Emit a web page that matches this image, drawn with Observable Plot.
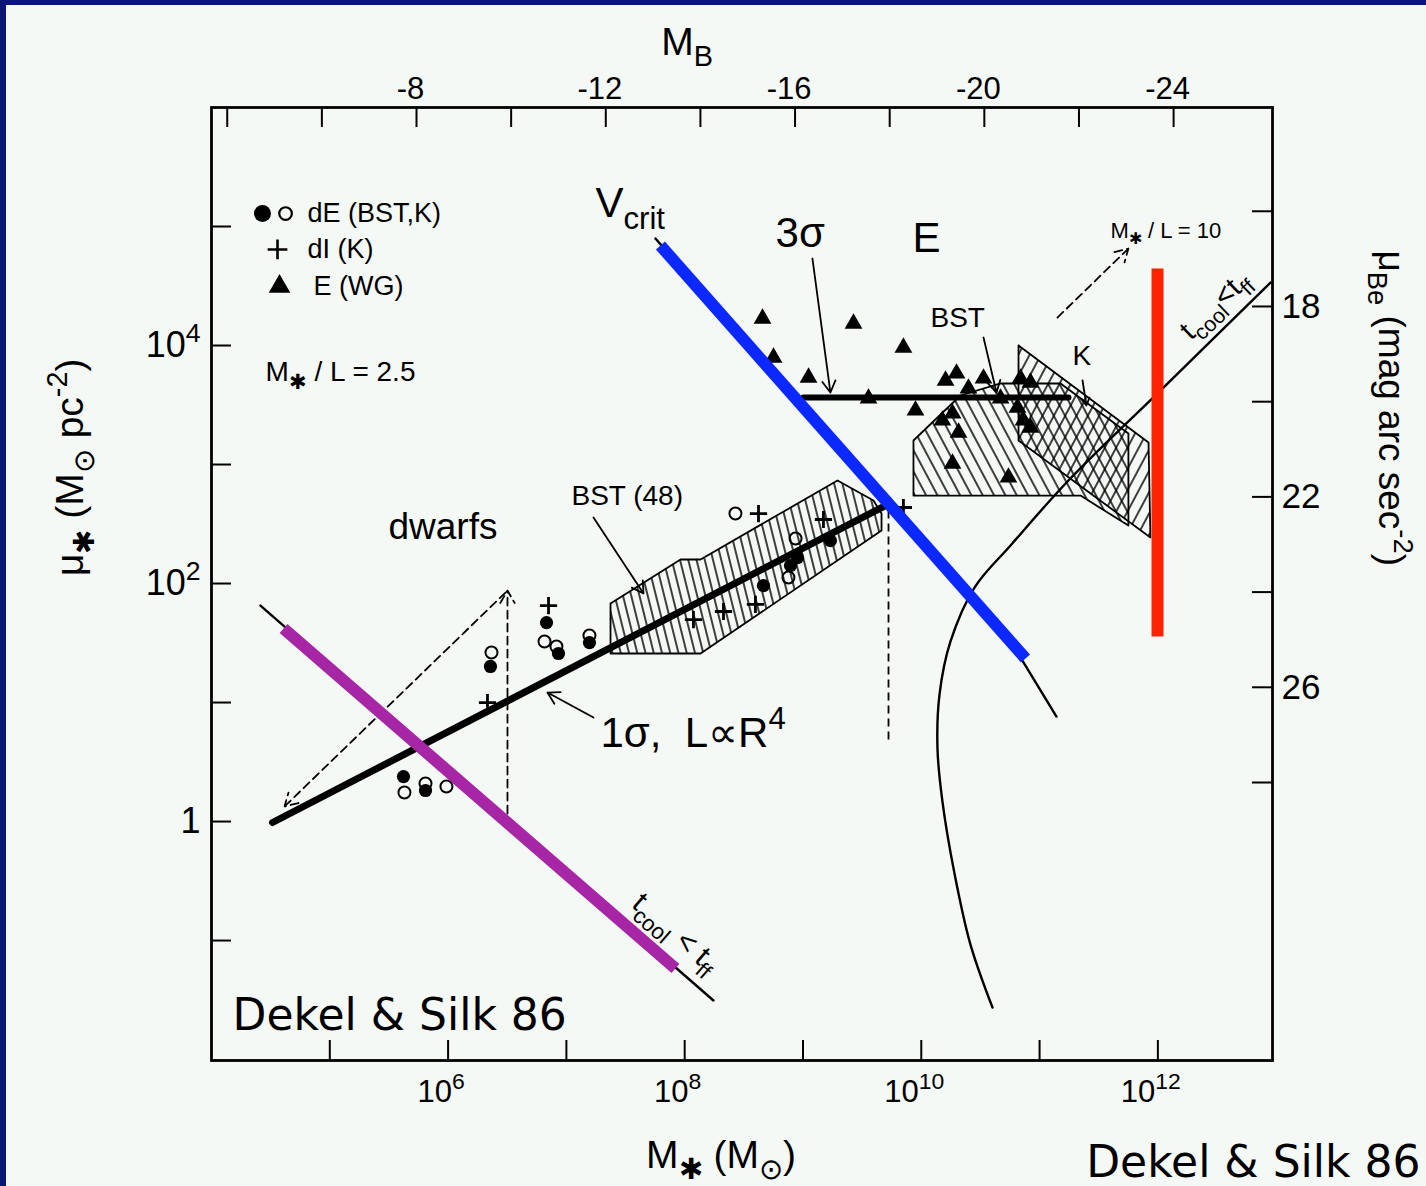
<!DOCTYPE html>
<html><head><meta charset="utf-8">
<script src="https://cdn.jsdelivr.net/npm/d3@7"></script>
<script src="https://cdn.jsdelivr.net/npm/@observablehq/plot@0.6"></script>
<style>
html,body{margin:0;padding:0;background:#f5f9f6;overflow:hidden;width:1426px;height:1186px;}
#chart{position:absolute;left:0;top:0;}
.edge{position:absolute;background:#0b1577;}
</style></head><body>
<div id="chart"></div>
<div class="edge" style="left:0;top:0;width:1426px;height:5px"></div>
<div class="edge" style="left:0;top:0;width:6px;height:1186px"></div>
<script>
// ---------- data (log10 M*, log10 mu*) ----------
const xTickExp = [5, 6, 7, 8, 9, 10, 11, 12];
const xLabelExp = [6, 8, 10, 12];
const yTickExp = [-1, 0, 1, 2, 3, 4, 5];
const yLabelExp = [0, 2, 4];
const mbTicks = [-4, -6, -8, -10, -12, -14, -16, -18, -20, -22, -24];
const mbLabels = [-8, -12, -16, -20, -24];
const muBeTicks = [16, 18, 20, 22, 24, 26, 28];
const muBeLabels = [18, 22, 26];
// M*/L = 2.5 conversions: log M* = MB0 - 0.4 M_B ; log mu* = MU0 - 0.4 mu_Be
const MB0 = 2.533, MU0 = 11.528;

const dEfilled = [[5.623,0.378],[5.809,0.261],[6.358,1.303],[6.832,1.672],[6.933,1.412],[7.195,1.504],[8.666,1.983],[8.894,2.151],[8.954,2.218],[9.232,2.361]];
const dEopen = [[5.631,0.244],[5.809,0.319],[5.986,0.294],[6.367,1.420],[6.815,1.513],[6.916,1.471],[7.195,1.563],[8.429,2.588],[8.877,2.050],[8.937,2.378]];
const dIplus = [[6.333,1.0],[6.849,1.815],[8.074,1.697],[8.328,1.765],[8.598,1.824],[8.624,2.588],[9.173,2.538],[9.849,2.639]];
const eWG = [[8.658,4.227],[8.751,3.899],[9.047,3.731],[9.427,4.185],[9.849,3.983],[9.554,3.555],[9.951,3.454],[10.205,3.706],[10.298,3.765],[10.526,3.723],[10.399,3.639],[10.179,3.370],[10.264,3.429],[10.315,3.269],[10.264,3.008],[10.737,2.891],[10.839,3.723],[10.923,3.689],[10.864,3.370],[10.923,3.311],[10.813,3.479],[10.670,3.555]];

const bst48 = [[7.373,1.832],[7.965,2.202],[8.134,2.202],[9.292,2.866],[9.596,2.697],[9.664,2.588],[9.664,2.445],[8.134,1.412],[7.373,1.412]];
const bstE = [[9.934,3.202],[10.331,3.580],[10.670,3.681],[11.177,3.681],[11.751,3.261],[11.751,2.487],[11.346,2.739],[9.934,2.739]];
const kBand = [[10.822,4.0],[11.921,3.185],[11.937,2.387],[10.822,3.202]];

const sigma1 = [[4.516,-0.008],[9.697,2.655]];
const sigma3 = [[9.004,3.563],[11.244,3.563]];
const vcrit = [[7.753,4.899],[10.855,1.353],[11.143,0.882]];
const coolLeft = [[4.414,1.815],[8.243,-1.504]];
const coolRight = [[12.952,4.529],[12.047,3.647],[11.244,2.866],[10.762,2.328],[10.450,1.966],[10.247,1.513],[10.154,1.067],[10.137,0.613],[10.179,0.168],[10.281,-0.437],[10.416,-1.034],[10.602,-1.563]];
const dashLines = [[[9.723,2.613],[9.723,0.664]]];
const dashArrows = [[[6.502,0.067],[6.502,1.941]],[[6.485,1.924],[4.617,0.126]],[[11.151,4.235],[11.751,4.815]]];
const noteArrows = [[[9.080,4.731],[9.232,3.605]],[[10.526,4.067],[10.636,3.605]],[[11.363,3.706],[11.396,3.496]],[[7.229,2.555],[7.652,1.916]],[[7.229,0.874],[6.840,1.084]]];

const purpleLine = [[4.609,1.622],[7.922,-1.235]];
const blueLine = [[7.795,4.840],[10.881,1.370]];
const redLine = [[11.997,4.647],[11.997,1.555]];

const legendRows = [{t:"dE (BST,K)", at:[4.811,5.109]},{t:"dI (K)", at:[4.811,4.807]},{t:"E (WG)", at:[4.862,4.496]}];
const legendFilled = [[4.431,5.109]], legendOpen = [[4.626,5.109]], legendPlus = [[4.558,4.807]], legendTri = [[4.575,4.496]];
const bigNotes = [{t:"V_{crit}", at:[7.246,5.193]},{t:"3σ", at:[8.768,4.941]},{t:"E", at:[9.926,4.899]},{t:"1σ,  L∝R^{4}", at:[7.288,0.739]}];
const midNotes = [{t:"M_{✱} / L = 2.5", at:[4.456,3.773]},{t:"BST", at:[10.078,4.235]},{t:"BST (48)", at:[7.043,2.739]},{t:"K", at:[11.278,3.908]}];
const dwarfNote = [{t:"dwarfs", at:[5.496,2.471]}];
const smallNote = [{t:"M_{✱} / L = 10", at:[11.6,4.966]}];
const coolNoteR = [{t:"t_{cool}<t_{ff}", at:[12.480,4.340]}];
const coolNoteL = [{t:"t_{cool} < t_{ff}", at:[7.925,-0.935]}];
const creditIn = [{t:"Dekel & Silk 86", at:[4.178,-1.630]}];

// ---------- layout ----------
const W = 1426, H = 1186, mL = 211, mR = 154, mT = 107, mB = 126;
const innerW = W - mL - mR, innerH = H - mT - mB;
const P = v => 10 ** v;
const X = d => P(d[0]), Y = d => P(d[1]);
const AX = d => P(d.at[0]), AY = d => P(d.at[1]);
const mbToM = mb => P(MB0 - 0.4 * mb);
const muBeToMu = m => P(MU0 - 0.4 * m);
const closed = a => [...a, a[0]];
const seg = s => ({x1: P(s[0][0]), y1: P(s[0][1]), x2: P(s[1][0]), y2: P(s[1][1])});
const creditFont = "'DejaVu Sans', sans-serif";

const svg = Plot.plot({
  width: W, height: H,
  marginLeft: mL, marginRight: mR, marginTop: mT, marginBottom: mB,
  x: {type: "log", domain: [P(4), P(12.969)], axis: null},
  y: {type: "log", domain: [P(-2.008), P(6)], axis: null},
  style: {background: "#f5f9f6", color: "#000", fontFamily: "'Liberation Sans', Arial, sans-serif"},
  marks: [
    // hatched regions
    Plot.line(closed(bst48), {x: X, y: Y, fill: "url(#hBST48)", stroke: "#000", strokeWidth: 1.8}),
    Plot.line(closed(bstE), {x: X, y: Y, fill: "url(#hBSTE)", stroke: "#000", strokeWidth: 1.8}),
    Plot.line(closed(kBand), {x: X, y: Y, fill: "url(#hK)", stroke: "#000", strokeWidth: 1.8}),
    // frame & ticks
    Plot.frame({stroke: "#000", strokeWidth: 2.8}),
    Plot.tickX(xTickExp, {x: P, insetTop: innerH - 20, strokeWidth: 2}),
    Plot.tickX(mbTicks, {x: mbToM, insetBottom: innerH - 20, strokeWidth: 2}),
    Plot.tickY(yTickExp, {y: P, insetRight: innerW - 20, strokeWidth: 2}),
    Plot.tickY(muBeTicks, {y: muBeToMu, insetLeft: innerW - 20, strokeWidth: 2}),
    // tick labels
    Plot.text(xLabelExp, {x: P, frameAnchor: "bottom", lineAnchor: "middle", dy: 32, dx: -7, text: e => `10^{${e}}`, fontSize: 31}),
    Plot.text(yLabelExp, {y: P, frameAnchor: "left", lineAnchor: "middle", dx: -11, textAnchor: "end", text: e => e === 0 ? "1" : `10^{${e}}`, fontSize: 36}),
    Plot.text(mbLabels, {x: mbToM, frameAnchor: "top", lineAnchor: "middle", dy: -18, dx: -6, text: d => String(d), fontSize: 31}),
    Plot.text(muBeLabels, {y: muBeToMu, frameAnchor: "right", lineAnchor: "middle", dx: 9, textAnchor: "start", text: d => String(d), fontSize: 35}),
    // axis titles
    Plot.text(["M_{B}"], {frameAnchor: "top", lineAnchor: "middle", dx: -55, dy: -65, fontSize: 39}),
    Plot.text(["M_{✱} (M_{⊙})"], {frameAnchor: "bottom", lineAnchor: "middle", dx: -21, dy: 95, fontSize: 39}),
    Plot.text(["μ_{✱} (M_{⊙} pc^{-2})"], {frameAnchor: "left", lineAnchor: "middle", dx: -141, dy: -8, rotate: -90, fontSize: 39}),
    Plot.text(["μ_{Be} (mag arc sec^{-2})"], {frameAnchor: "right", lineAnchor: "middle", dx: 118, dy: -18, rotate: 90, fontSize: 37}),
    // curves
    Plot.line(coolRight, {x: X, y: Y, curve: "catmull-rom", strokeWidth: 2.4}),
    Plot.line(coolLeft, {x: X, y: Y, strokeWidth: 2.4}),
    Plot.line(vcrit, {x: X, y: Y, strokeWidth: 2.4}),
    Plot.line(sigma1, {x: X, y: Y, strokeWidth: 7, strokeLinecap: "round"}),
    Plot.line(sigma3, {x: X, y: Y, strokeWidth: 6}),
    Plot.link(dashLines.map(seg), {x1: "x1", y1: "y1", x2: "x2", y2: "y2", strokeWidth: 1.8, strokeDasharray: "8,5"}),
    Plot.arrow(dashArrows.map(seg), {x1: "x1", y1: "y1", x2: "x2", y2: "y2", strokeWidth: 1.8, strokeDasharray: "8,5", headLength: 12}),
    Plot.arrow(noteArrows.map(seg), {x1: "x1", y1: "y1", x2: "x2", y2: "y2", strokeWidth: 1.8, headLength: 11}),
    // points
    Plot.dot(dEfilled, {x: X, y: Y, r: 6.6, fill: "#000", stroke: "none"}),
    Plot.dot(dEopen, {x: X, y: Y, r: 6, fill: "none", stroke: "#000", strokeWidth: 2}),
    Plot.dot(dIplus, {x: X, y: Y, symbol: "plus", r: 5.6, fill: "none", stroke: "#000", strokeWidth: 2.8}),
    Plot.dot(eWG, {x: X, y: Y, symbol: "triangle", r: 6.6, fill: "#000", stroke: "none"}),
    // legend
    Plot.dot(legendFilled, {x: X, y: Y, r: 8.5, fill: "#000", stroke: "none"}),
    Plot.dot(legendOpen, {x: X, y: Y, r: 6.3, fill: "none", stroke: "#000", strokeWidth: 2.2}),
    Plot.dot(legendPlus, {x: X, y: Y, symbol: "plus", r: 6.4, fill: "none", stroke: "#000", strokeWidth: 2.6}),
    Plot.dot(legendTri, {x: X, y: Y, symbol: "triangle", r: 8, fill: "#000", stroke: "none"}),
    Plot.text(legendRows, {x: AX, y: AY, text: "t", textAnchor: "start", fontSize: 27}),
    // annotations
    Plot.text(bigNotes, {x: AX, y: AY, text: "t", textAnchor: "start", fontSize: 42}),
    Plot.text(midNotes, {x: AX, y: AY, text: "t", textAnchor: "start", fontSize: 28}),
    Plot.text(dwarfNote, {x: AX, y: AY, text: "t", textAnchor: "start", fontSize: 37}),
    Plot.text(smallNote, {x: AX, y: AY, text: "t", textAnchor: "start", fontSize: 22}),
    Plot.text(coolNoteR, {x: AX, y: AY, text: "t", rotate: -44, fontSize: 29}),
    Plot.text(coolNoteL, {x: AX, y: AY, text: "t", rotate: 41, fontSize: 30}),
    Plot.text(creditIn, {x: AX, y: AY, text: "t", textAnchor: "start", fontSize: 44, fontFamily: creditFont}),
    Plot.text(["Dekel & Silk 86"], {frameAnchor: "bottom-right", lineAnchor: "middle", dx: 148, dy: 102, textAnchor: "end", fontSize: 44, fontFamily: creditFont}),
    // coloured overlays
    Plot.link([seg(purpleLine)], {x1: "x1", y1: "y1", x2: "x2", y2: "y2", stroke: "#a626a6", strokeWidth: 12}),
    Plot.link([seg(blueLine)], {x1: "x1", y1: "y1", x2: "x2", y2: "y2", stroke: "#0a28ff", strokeWidth: 12}),
    Plot.link([seg(redLine)], {x1: "x1", y1: "y1", x2: "x2", y2: "y2", stroke: "#ff2200", strokeWidth: 12})
  ]
});
document.getElementById("chart").append(svg);

// hatch patterns
const defs = d3.select(svg).insert("defs", ":first-child");
function hatch(id, s, angle, sw) {
  const p = defs.append("pattern").attr("id", id).attr("patternUnits", "userSpaceOnUse")
    .attr("width", s).attr("height", s).attr("patternTransform", `rotate(${angle})`);
  p.append("line").attr("x1", s / 2).attr("x2", s / 2).attr("y1", -1).attr("y2", s + 1)
    .attr("stroke", "#000").attr("stroke-width", sw);
}
hatch("hBST48", 8, -14, 1.5);
hatch("hBSTE", 10, -28, 1.5);
hatch("hK", 10, 28, 1.5);

// sub/superscripts: "_{..}" and "^{..}"
function richify(root) {
  root.querySelectorAll("text").forEach(t => {
    const s = t.textContent;
    if (!/[_^]\{/.test(s)) return;
    const fs = parseFloat(getComputedStyle(t).fontSize);
    while (t.firstChild) t.removeChild(t.firstChild);
    const re = /([_^])\{([^}]*)\}|([^_^]+)/g;
    let m, shift = 0;
    while ((m = re.exec(s))) {
      const ts = document.createElementNS("http://www.w3.org/2000/svg", "tspan");
      if (m[3] !== undefined) {
        ts.textContent = m[3];
        if (shift) ts.setAttribute("dy", -shift);
        shift = 0;
      } else {
        const d = m[1] === "_" ? fs * 0.28 : -fs * 0.42;
        ts.setAttribute("dy", d - shift);
        ts.setAttribute("font-size", fs * 0.74);
        ts.textContent = m[2];
        shift = d;
      }
      t.appendChild(ts);
    }
  });
}
richify(svg);
</script></body></html>
